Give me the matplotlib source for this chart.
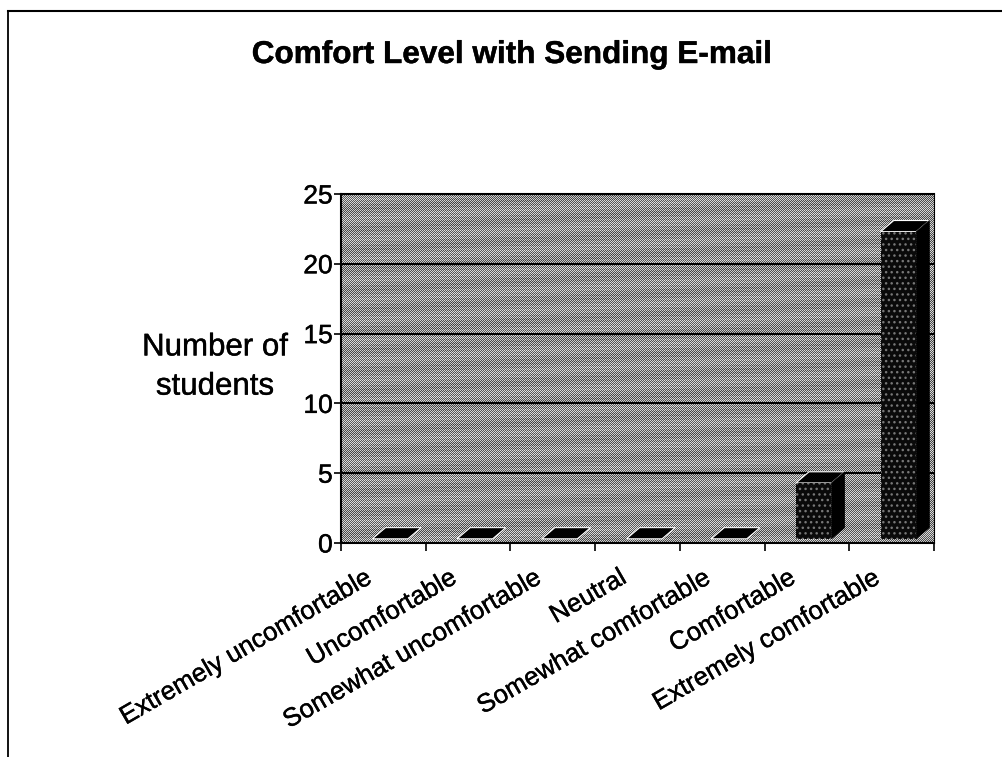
import numpy as np
import matplotlib
matplotlib.use("Agg")
import matplotlib.pyplot as plt
from matplotlib.patches import Polygon
from matplotlib.transforms import ScaledTranslation
import matplotlib.patheffects as pe

plt.rcParams['font.family'] = ['Liberation Sans', 'DejaVu Sans']

categories = ['Extremely uncomfortable', 'Uncomfortable', 'Somewhat uncomfortable',
              'Neutral', 'Somewhat comfortable', 'Comfortable', 'Extremely comfortable']
students = [0, 0, 0, 0, 0, 4, 22]
y_ticks = [0, 5, 10, 15, 20, 25]

W, H = 1003, 757
fig = plt.figure(figsize=(W / 100, H / 100), dpi=100)
ax = fig.add_axes([341 / W, 1 - 543 / H, (934 - 341) / W, (543 - 194) / H])
heavy = [pe.withStroke(linewidth=0.3, foreground='black')]

# dithered grey wall, like the scanned halftone
rows, cols = np.indices((349, 593))
checker = ((rows + cols) % 2) * 0.5 + 0.32
streaks = 0.05 * np.sin(rows * 1.7) * np.sin(cols * 0.043) + 0.04 * np.sin(rows * 0.31 + cols * 0.017)
ax.imshow(checker + streaks, cmap='gray', vmin=0, vmax=1, extent=(0.5, 7.5, 0, 25),
          aspect='auto', interpolation='nearest', zorder=0)

ax.set_xlim(0.5, 7.5)
ax.set_ylim(0, 25)
for v in y_ticks[1:]:
    ax.axhline(v, color='black', lw=1.5, zorder=1)

# 3D look: offsets in data units
left_off = -0.13
width = 0.42
depth_x = 0.155
depth_y = 0.8
base = 0.3

for i, v in enumerate(students):
    x0 = i + 1 + left_off
    x1 = x0 + width
    y0 = base
    y1 = base + v
    top = [(x0, y1), (x1, y1), (x1 + depth_x, y1 + depth_y), (x0 + depth_x, y1 + depth_y)]
    ax.add_patch(Polygon(top, closed=True, fc='black', ec='white', lw=0.8, zorder=3))
    if v > 0:
        side = [(x1, y0), (x1 + depth_x, y0 + depth_y), (x1 + depth_x, y1 + depth_y), (x1, y1)]
        ax.add_patch(Polygon(side, closed=True, fc='black', ec='black', lw=0.5, zorder=3))
        ax.bar(x0, v, width=width, bottom=y0, align='edge', color='#0a0a0a',
               edgecolor='#777777', hatch='...', lw=0, zorder=4)

ax.set_yticks(y_ticks)
ax.set_xticks(np.arange(1, 8))
ax.set_xticklabels(categories, rotation=30, ha='right', rotation_mode='anchor',
                   fontsize=18.6, path_effects=heavy)
ax.tick_params(axis='x', length=0, pad=16)
# labels end a little left of the category centre
shift = ScaledTranslation(-19 / 100, 0, fig.dpi_scale_trans)
for lab in ax.get_xticklabels():
    lab.set_transform(lab.get_transform() + shift)
ax.set_xticks(np.arange(0.5, 8), minor=True)
ax.tick_params(axis='x', which='minor', length=6, width=1.2)
ax.tick_params(axis='y', length=5, width=1.2, labelsize=19, pad=1)
for lab in ax.get_yticklabels():
    lab.set_path_effects(heavy)
for s in ['top', 'left', 'right', 'bottom']:
    ax.spines[s].set_linewidth(1.5)
ax.spines['right'].set_linewidth(0.8)

fig.text(512 / W, 1 - 55 / H, 'Comfort Level with Sending E-mail', ha='center', va='center',
         fontsize=22.7, fontweight='bold', path_effects=heavy)
fig.text(215 / W, 1 - 367 / H, 'Number of\nstudents', ha='center', va='center',
         fontsize=22.5, linespacing=1.4, path_effects=heavy)

# page frame, open on the right and at the bottom
fig.add_artist(plt.Line2D([8 / W, 8 / W], [0, 1 - 11 / H], color='black', lw=1.3))
fig.add_artist(plt.Line2D([8 / W, 1], [1 - 11 / H, 1 - 11 / H], color='black', lw=1.5))

fig.savefig('out.png', dpi=100)
